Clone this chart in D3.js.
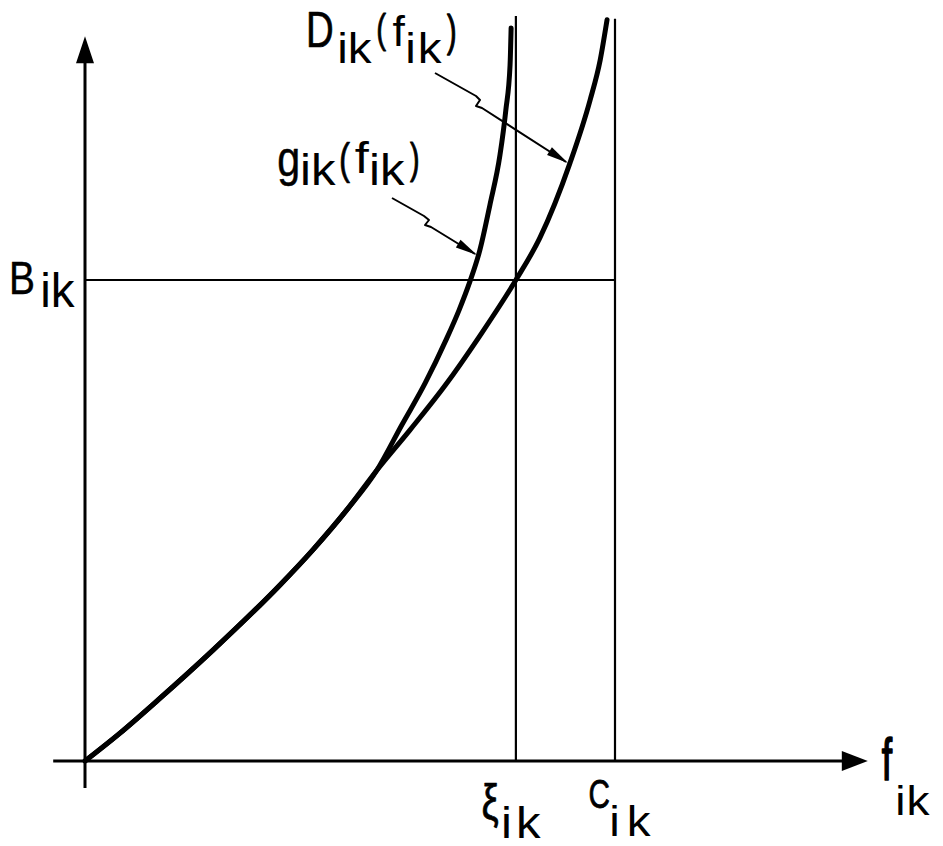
<!DOCTYPE html>
<html>
<head>
<meta charset="utf-8">
<script src="https://cdn.jsdelivr.net/npm/d3@7"></script>
<style>
  html, body { margin: 0; padding: 0; background: #fff; }
  svg { display: block; }
  text { fill: #000; }
</style>
</head>
<body>
<svg id="chart" width="943" height="846"></svg>
<script>
// Flow f_ik on the horizontal axis, cost on the vertical axis (arbitrary units).
// Both functions share the same lower branch, then split.
const fCommon = [0, 0.66, 1.38, 2.42, 3.68, 4.30, 4.94, 5.51];
const vCommon = [0, 0.58, 1.27, 2.31, 3.66, 4.39, 5.22, 6.05];

// g_ik(f_ik): steeper branch, asymptotic to xi_ik
const fG = [5.98, 6.42, 6.81, 7.06, 7.26, 7.45, 7.64, 7.83, 7.94, 8.02, 8.04];
const vG = [6.99, 7.86, 8.75, 9.38, 9.96, 10.62, 11.56, 12.60, 13.53, 14.47, 15.24];

// D_ik(f_ik): flatter branch, asymptotic to C_ik, passing through (xi_ik, B_ik)
const fD = [6.13, 6.79, 7.45, 8.13, 8.58, 9.15, 9.53, 9.72, 9.85];
const vD = [6.88, 7.80, 8.84, 10.00, 10.87, 12.43, 13.74, 14.57, 15.41];

// Reference levels
const xiVal = 8.13;   // ξ_ik
const capVal = 10;    // C_ik
const bVal = 10;      // B_ik

// Extents of the drawn axes / guide lines
const xAxisExtent = [-0.6, 14.77];
const yAxisExtent = [-0.56, 15.07];
const guideTop = [15.49, 15.43];

const FONT = '"Liberation Sans", Arial, sans-serif';

const svg = d3.select("#chart");

const x = d3.scaleLinear().domain([0, 10]).range([85, 615]);
const y = d3.scaleLinear().domain([0, 10]).range([761, 280]);

const pts = (fs, vs) => fs.map((f, i) => [f, vs[i]]);
const common = pts(fCommon, vCommon);
const gPts = common.concat(pts(fG, vG));
const dPts = common.concat(pts(fD, vD));

const line = d3.line()
  .x(d => x(d[0]))
  .y(d => y(d[1]))
  .curve(d3.curveMonotoneX);

// ---- axes ----
svg.append("line")
  .attr("x1", x(xAxisExtent[0])).attr("x2", x(xAxisExtent[1]) - 20)
  .attr("y1", y(0)).attr("y2", y(0))
  .attr("stroke", "#000").attr("stroke-width", 3);
svg.append("line")
  .attr("x1", x(0)).attr("x2", x(0))
  .attr("y1", y(yAxisExtent[0])).attr("y2", y(yAxisExtent[1]) + 20)
  .attr("stroke", "#000").attr("stroke-width", 3);

// arrow heads
{
  const tx = x(xAxisExtent[1]), ty = y(0);
  svg.append("path")
    .attr("d", `M${tx},${ty} L${tx - 26},${ty - 10} L${tx - 26},${ty + 10} Z`)
    .attr("fill", "#000");
  const ux = x(0), uy = y(yAxisExtent[1]);
  svg.append("path")
    .attr("d", `M${ux},${uy} L${ux - 9},${uy + 27} L${ux + 9},${uy + 27} Z`)
    .attr("fill", "#000");
}

// ---- guide lines ----
svg.append("line")
  .attr("x1", x(xiVal)).attr("x2", x(xiVal))
  .attr("y1", y(0)).attr("y2", y(guideTop[0]))
  .attr("stroke", "#000").attr("stroke-width", 2.2);
svg.append("line")
  .attr("x1", x(capVal)).attr("x2", x(capVal))
  .attr("y1", y(0)).attr("y2", y(guideTop[1]))
  .attr("stroke", "#000").attr("stroke-width", 2.2);
svg.append("line")
  .attr("x1", x(0)).attr("x2", x(capVal))
  .attr("y1", y(bVal)).attr("y2", y(bVal))
  .attr("stroke", "#000").attr("stroke-width", 2.2);

// ---- curves ----
[gPts, dPts].forEach(p => {
  svg.append("path")
    .attr("d", line(p))
    .attr("fill", "none")
    .attr("stroke", "#000")
    .attr("stroke-width", 5)
    .attr("stroke-linecap", "round")
    .attr("stroke-linejoin", "round");
});

// ---- leader lines with a small kink and a filled arrow head ----
function leader(path, tip, from) {
  svg.append("path")
    .attr("d", path)
    .attr("fill", "none")
    .attr("stroke", "#000")
    .attr("stroke-width", 2)
    .attr("stroke-linejoin", "round");
  const dx = tip[0] - from[0], dy = tip[1] - from[1];
  const len = Math.hypot(dx, dy), ux = dx / len, uy = dy / len;
  const L = 22, W = 4.5;
  const bx = tip[0] - ux * L, by = tip[1] - uy * L;
  svg.append("path")
    .attr("d", `M${tip[0]},${tip[1]} L${bx - uy * W},${by + ux * W} L${bx + uy * W},${by - ux * W} Z`)
    .attr("fill", "#000");
}
leader("M435,73 L476,96 L480,100 L476,106 L482,108 L566,162", [568, 163], [482, 108]);
leader("M392,198 L424,216 L429,220 L425,225 L431,227 L475,254", [477, 255], [431, 227]);

// ---- labels ----
// Each piece of lettering is sized so that its inked box fills the
// rectangle (left, top, right, bottom). Narrowed glyphs get a light outline
// to keep their stems heavy; wide boxes are filled by a mild stretch plus
// extra gaps between letters.
const ctx = document.createElement("canvas").getContext("2d");
const MAX_STRETCH = 1.12;
function piece(t, left, top, right, bottom) {
  ctx.font = `100px ${FONT}`;
  const m = ctx.measureText(t);
  const inkH = m.actualBoundingBoxAscent + m.actualBoundingBoxDescent;
  const inkW = m.actualBoundingBoxLeft + m.actualBoundingBoxRight;
  const size = 100 * (bottom - top) / inkH;
  const k = size / 100;
  const chars = [...t];
  let sx = (right - left) / (inkW * k);
  let gap = 0, shift = 0;
  if (sx > MAX_STRETCH) {
    sx = MAX_STRETCH;
    const extra = (right - left) - inkW * k * sx;
    if (chars.length > 1) gap = extra / (chars.length - 1);
    else shift = extra / 2;
  }
  const px = left + shift + m.actualBoundingBoxLeft * k * sx;
  const py = top + m.actualBoundingBoxAscent * k;
  const txt = svg.append("text")
    .attr("transform", `translate(${px.toFixed(2)},${py.toFixed(2)}) scale(${sx.toFixed(3)},1)`)
    .style("font-family", FONT)
    .style("font-size", size.toFixed(2) + "px");
  if (sx < 0.95) {
    txt.attr("stroke", "#000")
      .attr("stroke-width", (0.05 * size * (1 - sx) / sx).toFixed(2))
      .attr("stroke-linejoin", "round");
  }
  chars.forEach((c, i) => {
    txt.append("tspan")
      .attr("dx", i === 0 ? 0 : (gap / sx).toFixed(2))
      .text(c);
  });
}

// B_ik
piece("B", 12, 262, 33, 294);
piece("ik", 43, 272, 75, 307);

// D_ik(f_ik)
piece("D", 309, 13, 332, 47);
piece("ik", 340, 32, 372, 63);
piece("(", 378, 13, 386, 52);
piece("f", 393, 15, 405, 46);
piece("ik", 408, 32, 442, 63);
piece(")", 447, 13, 455, 55);

// g_ik(f_ik)
piece("g", 279, 149, 298, 186);
piece("ik", 303, 153, 336, 185);
piece("(", 341, 142, 350, 183);
piece("f", 355, 140, 369, 173);
piece("ik", 372, 153, 405, 185);
piece(")", 410, 142, 418, 182);

// ξ_ik
piece("ξ", 483, 783, 498, 828);
piece("ik", 504, 806, 541, 838);

// C_ik
piece("C", 590, 779, 609, 808);
piece("ik", 612, 805, 651, 836);

// f_ik
piece("f", 882, 737, 892, 780);
piece("ik", 898, 785, 930, 815);
</script>
</body>
</html>
